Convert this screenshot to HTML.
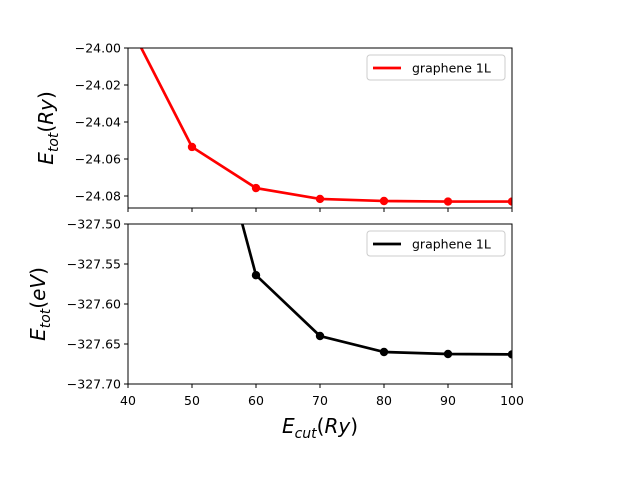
<!DOCTYPE html>
<html><head><meta charset="utf-8"><style>
body{margin:0;background:#fff}
svg text{font-family:"DejaVu Sans","Liberation Sans",sans-serif}
</style></head><body>
<svg id="c" width="640" height="480" xmlns="http://www.w3.org/2000/svg"></svg>
<script>
const cutoffs=[40,50,60,70,80,90,100];
const energyRy=[-23.986,-24.0535,-24.0757,-24.0816,-24.0827,-24.083,-24.083];
const energyEv=[-326.35,-327.265,-327.564,-327.64,-327.66,-327.6625,-327.663];
const xTicks=[40,50,60,70,80,90,100];
const ryTicks=[-24.00,-24.02,-24.04,-24.06,-24.08];
const evTicks=[-327.50,-327.55,-327.60,-327.65,-327.70];
const NS="http://www.w3.org/2000/svg";
const svg=document.getElementById('c');
function mk(t,a,p){const e=document.createElementNS(NS,t);for(const k in a)e.setAttribute(k,a[k]);(p||svg).appendChild(e);return e;}
const X0=128,X1=512;
const xs=v=>X0+(v-40)/(100-40)*(X1-X0);
const yRy=v=>48+(-24.0-v)/0.02*37;
const yEv=v=>224+(-327.5-v)/0.2*160;
function panel(top,yf,ticks,fmt,vals,color,name,ylabelHtml,ylx){
  const g=mk('g',{});
  
  
  const cp=mk('clipPath',{id:name+'clip'},g);mk('rect',{x:X0,y:top,width:X1-X0,height:160},cp);
  const pts=cutoffs.map((c,i)=>xs(c)+','+yf(vals[i])).join(' ');
  const line=mk('polyline',{points:pts,fill:'none',stroke:color,'stroke-width':2.7,'clip-path':'url(#'+name+'clip)'},g);
  
  
  cutoffs.forEach((c,i)=>{const p=mk('circle',{cx:xs(c),cy:yf(vals[i]),r:4.2,fill:color,'clip-path':'url(#'+name+'clip)'},g);
    
    });
  mk('rect',{x:X0,y:top,width:X1-X0,height:160,fill:'none',stroke:'#000','stroke-width':1},g);
  ticks.forEach(t=>{const y=yf(t);mk('line',{x1:X0-4,x2:X0,y1:y,y2:y,stroke:'#000'},g);
    const tx=mk('text',{x:X0-7,y:y+4.5,'text-anchor':'end','font-size':12.5},g);tx.textContent=fmt(t).replace('-','\u2212');
    
    });
  xTicks.forEach(t=>mk('line',{x1:xs(t),x2:xs(t),y1:top+160,y2:top+164,stroke:'#000'},g));
  const lg=mk('g',{},g);
  
  
  mk('rect',{x:367,y:top+7,width:138,height:25,rx:3,fill:'#fff',stroke:'#ccc'},lg);
  mk('line',{x1:373,x2:401,y1:top+20,y2:top+20,stroke:color,'stroke-width':2.7},lg);
  const lt=mk('text',{x:412,y:top+24.5,'font-size':12.5},lg);lt.textContent='graphene 1L';
  const yl=mk('text',{transform:`translate(${ylx},${top+80}) rotate(-90)`,'text-anchor':'middle','font-size':20},g);
  yl.innerHTML=ylabelHtml;
  
  
}
panel(48,yRy,ryTicks,t=>t.toFixed(2),energyRy,'#ff0000','ry','<tspan font-style="italic">E</tspan><tspan font-style="italic" font-size="14" dy="5">tot</tspan><tspan dy="-5">(</tspan><tspan font-style="italic">Ry</tspan>)',53);
panel(224,yEv,evTicks,t=>t.toFixed(2),energyEv,'#000000','ev','<tspan font-style="italic">E</tspan><tspan font-style="italic" font-size="14" dy="5">tot</tspan><tspan dy="-5">(</tspan><tspan font-style="italic">eV</tspan>)',45);
xTicks.forEach(t=>{const tx=mk('text',{x:xs(t),y:405,'text-anchor':'middle','font-size':12.5});tx.textContent=t;
  
  });
const xl=mk('text',{x:320,y:433,'text-anchor':'middle','font-size':20});
xl.innerHTML='<tspan font-style="italic">E</tspan><tspan font-style="italic" font-size="14" dy="5">cut</tspan><tspan dy="-5">(</tspan><tspan font-style="italic">Ry</tspan>)';


</script>
</body></html>
